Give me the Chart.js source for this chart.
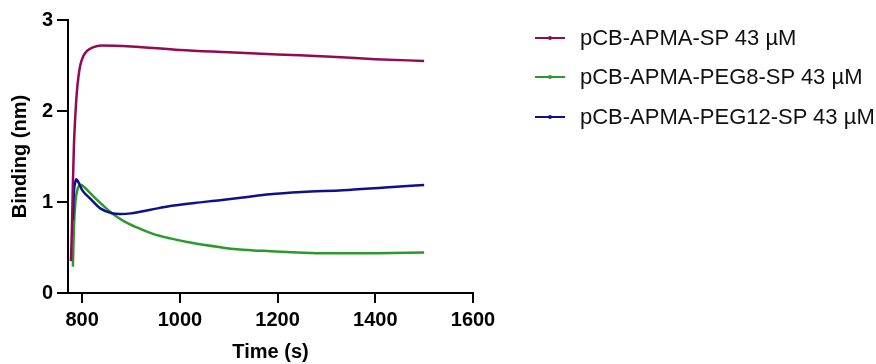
<!DOCTYPE html>
<html>
<head>
<meta charset="utf-8">
<script src="https://cdn.jsdelivr.net/npm/chart.js@4/dist/chart.umd.min.js"></script>
<style>
  body { margin: 0; background: #fff; }
  .wrap { position: relative; width: 876px; height: 364px; }
  #legend { position: absolute; left: 535px; top: 20px; font-family: "Liberation Sans", Arial, sans-serif; font-size: 22px; color: #111; }
  .item { position: absolute; left: 0; height: 24px; white-space: nowrap; }
  .item .ln { position: absolute; left: 0; top: 11px; width: 30px; height: 2px; }
  .item .dot { position: absolute; left: 13px; top: 10px; width: 4px; height: 4px; border-radius: 2px; }
  .item span { position: absolute; left: 45px; top: 0; line-height: 24px; }
</style>
</head>
<body>
<div class="wrap">
  <canvas id="chart" width="876" height="364"></canvas>
  <div id="legend"></div>
</div>
<script>
// Series: time (s) and binding (nm)
const spTime  = [777, 779, 781, 783, 786, 789, 792, 796, 802, 810, 822, 840, 900, 1000, 1100, 1200, 1300, 1400, 1500];
const spVals  = [0.35, 0.7, 1.2, 1.6, 1.95, 2.2, 2.36, 2.5, 2.6, 2.66, 2.70, 2.72, 2.71, 2.67, 2.645, 2.62, 2.60, 2.57, 2.55];

const peg8Time = [781, 783, 786, 790, 797, 805, 816, 837, 861, 885, 912, 945, 980, 1015, 1048, 1080, 1117, 1150, 1185, 1240, 1300, 1400, 1500];
const peg8Vals = [0.29, 0.7, 0.99, 1.13, 1.19, 1.16, 1.10, 0.99, 0.876, 0.79, 0.72, 0.65, 0.60, 0.56, 0.53, 0.505, 0.48, 0.468, 0.46, 0.446, 0.436, 0.437, 0.445];

const peg12Time = [781, 783, 786, 788, 792, 800, 816, 837, 861, 878, 900, 940, 980, 1030, 1082, 1130, 1184, 1250, 1334, 1420, 1500];
const peg12Vals = [0.8, 1.1, 1.22, 1.25, 1.22, 1.13, 1.04, 0.93, 0.876, 0.868, 0.875, 0.915, 0.956, 0.99, 1.02, 1.05, 1.085, 1.11, 1.13, 1.16, 1.187];

const seriesNames = ['pCB-APMA-SP 43 µM', 'pCB-APMA-PEG8-SP 43 µM', 'pCB-APMA-PEG12-SP 43 µM'];
const seriesColors = ['#930a52', '#2a9a2a', '#10108c'];

const xTicks = [800, 1000, 1200, 1400, 1600];
const yTicks = [0, 1, 2, 3];

function toPoints(xs, ys) {
  return xs.map((x, i) => ({ x: x, y: ys[i] }));
}

// magenta on top, then blue, then green
const drawOrder = [0, 2, 1];

const datasets = [
  toPoints(spTime, spVals),
  toPoints(peg8Time, peg8Vals),
  toPoints(peg12Time, peg12Vals)
].map((pts, i) => ({
  label: seriesNames[i],
  data: pts,
  order: drawOrder[i],
  borderColor: seriesColors[i],
  backgroundColor: seriesColors[i],
  borderWidth: 2.5,
  pointRadius: 0,
  cubicInterpolationMode: 'monotone',
  fill: false
}));

const tickFont = { family: '"Liberation Sans", Arial, sans-serif', size: 20, weight: 'bold' };

new Chart(document.getElementById('chart'), {
  type: 'line',
  data: { datasets: datasets },
  options: {
    responsive: false,
    animation: false,
    layout: { padding: { top: 20, right: 403, left: 0, bottom: 0 } },
    plugins: { legend: { display: false }, tooltip: { enabled: false } },
    scales: {
      x: {
        type: 'linear',
        min: 771,
        max: 1600,
        afterBuildTicks: s => { s.ticks = xTicks.map(v => ({ value: v })); },
        afterFit: s => { s.height = 71; },
        grid: { drawOnChartArea: false, color: '#000', lineWidth: 2, tickLength: 10 },
        border: { color: '#000', width: 2 },
        ticks: { color: '#000', font: tickFont, padding: 5, maxRotation: 0, callback: v => String(v) },
        title: { display: true, text: 'Time (s)', color: '#000', font: tickFont, padding: { top: 4, bottom: 0 } }
      },
      y: {
        min: 0,
        max: 3,
        afterBuildTicks: s => { s.ticks = yTicks.map(v => ({ value: v })); },
        afterFit: s => { s.width = 68; },
        grid: { drawOnChartArea: false, color: '#000', lineWidth: 2, tickLength: 11 },
        border: { color: '#000', width: 2 },
        ticks: { color: '#000', font: tickFont, padding: 4, callback: v => String(v) },
        title: { display: true, text: 'Binding (nm)', color: '#000', font: tickFont, padding: { top: 8, bottom: 0 } }
      }
    }
  }
});

// legend on the right
const legendTops = [6, 45, 85];
document.getElementById('legend').innerHTML = seriesNames.map((n, i) => `
  <div class="item" style="top:${legendTops[i]}px">
    <div class="ln" style="background:${seriesColors[i]}"></div>
    <div class="dot" style="background:${seriesColors[i]}"></div>
    <span>${n}</span>
  </div>`).join('');
</script>
</body>
</html>
